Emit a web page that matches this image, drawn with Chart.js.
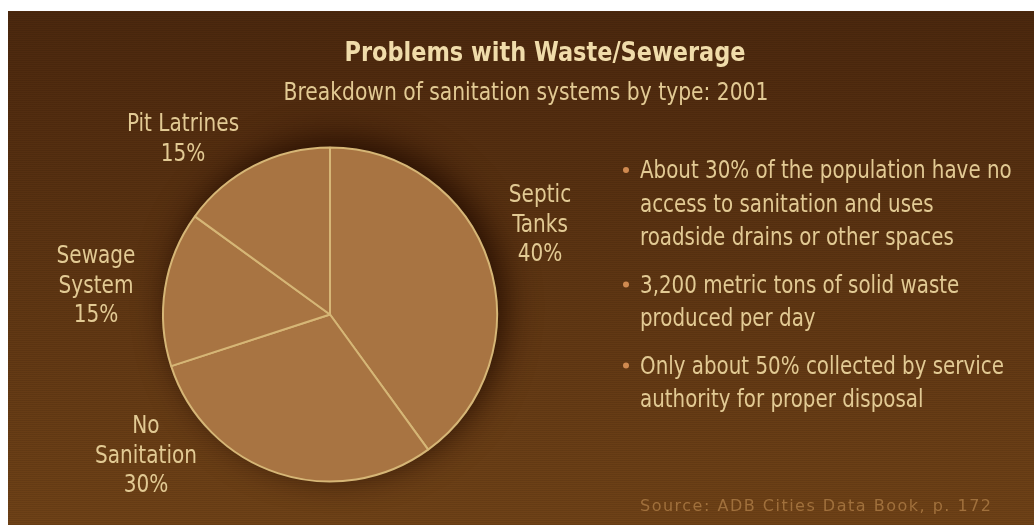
<!DOCTYPE html>
<html>
<head>
<meta charset="utf-8">
<title>Problems with Waste/Sewerage</title>
<script src="https://cdn.jsdelivr.net/npm/chart.js@4.4.0/dist/chart.umd.min.js"></script>
<style>
    html, body { margin: 0; padding: 0; background: #fff; }
    #wrap { width: 1034px; height: 525px; }
</style>
</head>
<body>
<div id="wrap"><canvas id="pieChart" width="1034" height="525"></canvas></div>
<script>
const categories = ['Septic Tanks', 'No Sanitation', 'Sewage System', 'Pit Latrines'];
const shares = [40, 30, 15, 15];
const labelLines = [['Septic', 'Tanks'], ['No', 'Sanitation'], ['Sewage', 'System'], ['Pit Latrines']];

const titleText = 'Problems with Waste/Sewerage';
const subtitleText = 'Breakdown of sanitation systems by type: 2001';
const bullets = [
    ['About 30% of the population have no', 'access to sanitation and uses', 'roadside drains or other spaces'],
    ['3,200 metric tons of solid waste', 'produced per day'],
    ['Only about 50% collected by service', 'authority for proper disposal']
];
const sourceText = 'Source: ADB Cities Data Book, p. 172';

const NARROW = "'Liberation Sans Narrow', 'DejaVu Sans Condensed', 'Roboto Condensed', sans-serif";
const TEXT_COLOR = '#e2ca94';

// label anchors relative to the pie centre (first baseline, centred)
const labelOffsets = [[210, -112.5], [-184, 118.5], [-234, -51.5], [-147, -183.5]];

// squeeze text horizontally, the original uses a very narrow pixel font
function drawText(ctx, text, x, y, align, sx) {
    ctx.save();
    ctx.translate(x, y);
    ctx.scale(sx, 1);
    ctx.textAlign = align;
    ctx.fillText(text, 0, 0);
    ctx.restore();
}

const backgroundPlugin = {
    id: 'panel',
    beforeDraw(chart) {
        const ctx = chart.ctx;
        const w = chart.width, h = chart.height;
        ctx.save();
        ctx.fillStyle = '#ffffff';
        ctx.fillRect(0, 0, w, h);
        const grad = ctx.createLinearGradient(0, 11, 0, h);
        grad.addColorStop(0, '#4c280e');
        grad.addColorStop(1, '#6f4217');
        ctx.fillStyle = grad;
        ctx.fillRect(8, 11, w - 8, h - 11);
        ctx.fillStyle = 'rgba(0, 0, 0, 0.07)';
        for (let y = 12; y < h; y += 2) {
            ctx.fillRect(8, y, w - 8, 1);
        }
        ctx.restore();
    }
};

const shadowPlugin = {
    id: 'pieShadow',
    beforeDatasetsDraw(chart) {
        const arc = chart.getDatasetMeta(0).data[0];
        if (!arc) return;
        const ctx = chart.ctx;
        ctx.save();
        ctx.shadowColor = 'rgba(35, 12, 0, 0.95)';
        ctx.shadowBlur = 34;
        ctx.shadowOffsetX = 7;
        ctx.shadowOffsetY = -8;
        ctx.fillStyle = '#a87442';
        ctx.beginPath();
        ctx.arc(arc.x, arc.y, arc.outerRadius, 0, Math.PI * 2);
        ctx.fill();
        ctx.restore();
    }
};

const textPlugin = {
    id: 'texts',
    afterDraw(chart) {
        const ctx = chart.ctx;
        const arcs = chart.getDatasetMeta(0).data;
        ctx.save();
        ctx.textBaseline = 'alphabetic';

        // headings
        ctx.fillStyle = '#f0dcaa';
        ctx.font = 'bold 26px ' + NARROW;
        drawText(ctx, titleText, 545, 61, 'center', 0.96);
        ctx.fillStyle = TEXT_COLOR;
        ctx.font = '24px ' + NARROW;
        drawText(ctx, subtitleText, 526, 100, 'center', 0.94);

        // slice labels
        arcs.forEach((arc, i) => {
            const lines = labelLines[i].concat([shares[i] + '%']);
            const x = arc.x + labelOffsets[i][0];
            let y = arc.y + labelOffsets[i][1];
            lines.forEach(line => {
                drawText(ctx, line, x, y, 'center', 0.93);
                y += 29.5;
            });
        });

        // bullet notes
        let y = 178;
        bullets.forEach(par => {
            ctx.fillStyle = '#d08a50';
            ctx.beginPath();
            ctx.arc(626, y - 8, 3, 0, Math.PI * 2);
            ctx.fill();
            ctx.fillStyle = TEXT_COLOR;
            par.forEach(line => {
                drawText(ctx, line, 640, y, 'left', 0.92);
                y += 33.5;
            });
            y += 14;
        });

        // source
        ctx.fillStyle = '#a0703c';
        ctx.font = '16px "DejaVu Sans", sans-serif';
        ctx.letterSpacing = '1.5px';
        drawText(ctx, sourceText, 640, 511, 'left', 1);
        ctx.restore();
    }
};

new Chart(document.getElementById('pieChart'), {
    type: 'pie',
    data: {
        labels: categories,
        datasets: [{
            data: shares,
            backgroundColor: '#a87442',
            borderColor: '#d6b676',
            borderWidth: 2,
            hoverBorderWidth: 2
        }]
    },
    options: {
        responsive: false,
        animation: false,
        layout: {
            padding: { left: 162, top: 146.5, right: 536, bottom: 42.5 }
        },
        plugins: {
            legend: { display: false },
            tooltip: { enabled: false },
            title: { display: false }
        }
    },
    plugins: [backgroundPlugin, shadowPlugin, textPlugin]
});
</script>
</body>
</html>
